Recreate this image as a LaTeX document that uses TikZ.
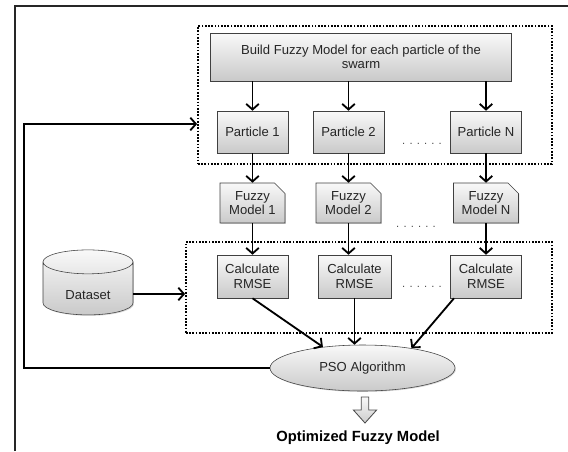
\documentclass[tikz,border=0pt]{standalone}
\usepackage{fontspec}
\setmainfont{Liberation Sans}
\usetikzlibrary{arrows.meta,calc,positioning,shapes.geometric,shapes.misc,shadows}

\begin{document}
\begin{tikzpicture}[
  box/.style={draw=black!75,top color=gray!5,bottom color=gray!42,drop shadow={opacity=0.3,shadow xshift=0.7pt,shadow yshift=-0.7pt},align=center,font=\fontsize{9.3}{10.3}\selectfont,text=black!85,inner sep=1pt,minimum width=1.775cm,minimum height=1.05cm},
  doc/.style={box,chamfered rectangle,chamfered rectangle corners=north east,chamfered rectangle xsep=0.13cm,chamfered rectangle ysep=0.13cm,minimum width=1.625cm,minimum height=1.0cm},
  grp/.style={draw,line width=1.2pt,dash pattern=on 1.2pt off 1.1pt},
  line/.style={draw=black,line width=1.3pt},
  arr/.style={line,-{Straight Barb[length=4pt,width=9pt]}},
  gap/.style={font=\fontsize{8}{8}\selectfont,text=black!70},
  hollow/.style={draw=black!70,line width=0.6pt,top color=gray!5,bottom color=gray!40}
]
\useasboundingbox (0,0) rectangle (14.2,-11.275);
\draw[line width=1.3pt,black!85] (0.375,-11.275) |- (14.2,-0.15);

% dotted groups
\node[grp,minimum width=8.85cm,minimum height=3.45cm] (topgrp) at (9.375,-2.375) {};
\node[grp,minimum width=9.15cm,minimum height=2.275cm] (rmsegrp) at (9.225,-7.1875) {};

\node[box,minimum width=7.525cm,minimum height=1.2cm] (build) at (9.025,-1.425) {Build Fuzzy Model for each particle of the\\swarm};

\node[box] (p1) at (6.3125,-3.3) {Particle 1};
\node[box] (p2) at (8.7125,-3.3) {Particle 2};
\node[box] (pN) at (12.15,-3.3) {Particle N};
\node[gap] (pdots) at (10.55,-3.6) {. . . . . .};

\node[doc] (fm1) at (6.3125,-5.075) {Fuzzy\\Model 1};
\node[doc] (fm2) at (8.7125,-5.075) {Fuzzy\\Model 2};
\node[doc] (fmN) at (12.15,-5.075) {Fuzzy\\Model N};
\node[gap] (fmdots) at (10.4,-5.675) {. . . . . .};

\node[box,minimum height=1.075cm] (cr1) at (6.3125,-6.9125) {Calculate\\RMSE};
\node[box,minimum width=1.825cm,minimum height=1.075cm] (cr2) at (8.8625,-6.9125) {Calculate\\RMSE};
\node[box,minimum height=1.075cm] (crN) at (12.15,-6.9125) {Calculate\\RMSE};
\node[gap] (crdots) at (10.55,-7.175) {. . . . . .};

\node[box,cylinder,shape border rotate=90,aspect=0.5,minimum width=2.25cm,minimum height=1.625cm,text height=0.5cm] (data) at (2.2,-7.25) {Dataset};

\node[box,ellipse,minimum width=4.625cm,minimum height=1.15cm] (pso) at (9.0625,-9.2) {PSO Algorithm};
\node[font=\fontsize{10.5}{12}\selectfont\bfseries] (result) at (8.95,-10.95) {Optimized Fuzzy Model};

% hollow output arrow
\coordinate (outtop) at (9.125,-9.925);
\path[hollow] ([xshift=-0.095cm]outtop) -- ++(0.19,0) -- ++(0,-0.325) -- ++(0.195,0)
  -- ++(-0.29,-0.325) -- ++(-0.29,0.325) -- ++(0.195,0) -- cycle;

\coordinate (turn) at (0.6,-3.1);

\foreach \n in {1,2,N}{
  \draw[arr] (p\n |- build.south) -- (p\n.north);
  \draw[arr] (p\n.south) -- (fm\n.north);
  \draw[arr] (fm\n.south) -- (fm\n.south |- cr\n.north);
}
\draw[arr] ([yshift=-0.1cm]data.east) -- ([yshift=-0.1cm]data.east -| rmsegrp.west);
\draw[arr] (cr1.south) -- (pso.152);
\draw[arr] (cr2.south) -- (cr2.south |- pso.north);
\draw[arr] ([xshift=-0.8cm]crN.south) -- (pso.22);
\draw[arr] (pso.west) -| (turn) -- (turn -| topgrp.west);
\end{tikzpicture}
\end{document}
